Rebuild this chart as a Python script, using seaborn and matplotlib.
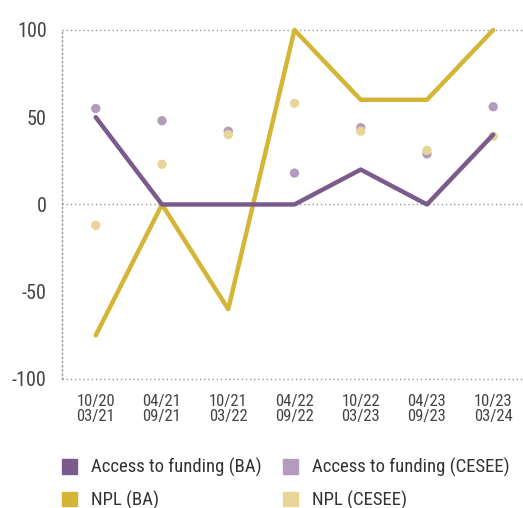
import numpy as np
import pandas as pd
import matplotlib
matplotlib.use("Agg")
import matplotlib.pyplot as plt
import seaborn as sns
from matplotlib.patches import Patch
from matplotlib import font_manager as fm

periods = ["10/20\n03/21", "04/21\n09/21", "10/21\n03/22", "04/22\n09/22",
           "10/22\n03/23", "04/23\n09/23", "10/23\n03/24"]
access_ba = [50, 0, 0, 0, 20, 0, 40]
npl_ba = [-75, 0, -60, 100, 60, 60, 100]
access_cesee = [55, 48, 42, 18, 44, 29, 56]
npl_cesee = [-12, 23, 40, 58, 42, 31, 39]

c_access_ba = "#7b5a8c"
c_access_cesee = "#b39bbb"
c_npl_ba = "#d4b536"
c_npl_cesee = "#e8d597"


def pick_narrow_font():
    # look for a condensed regular face among the installed fonts
    cands = []
    for f in fm.fontManager.ttflist:
        narrow = ("Narrow" in f.name or "Condensed" in f.name
                  or "ondensed" in str(f.stretch) or "Narrow" in f.fname
                  or "Condensed" in f.fname)
        if narrow and f.style == "normal" and f.weight in (400, "normal", "regular"):
            cands.append(f)
    order = ["Liberation Sans Narrow", "Roboto Condensed", "Open Sans Condensed",
             "DejaVu Sans Condensed", "Noto Sans Condensed"]
    for key in order:
        for f in cands:
            if key.replace(" ", "") in f.fname.replace("-", "").replace("_", "") or key == f.name:
                return f.fname
    for f in cands:
        if "Bold" not in f.fname and "Italic" not in f.fname and "Oblique" not in f.fname:
            return f.fname
    return None


sns.set_style("white")
plt.rcParams["font.family"] = ["DejaVu Sans"]
narrow = pick_narrow_font()


def fp(size):
    if narrow:
        return fm.FontProperties(fname=narrow, size=size)
    return fm.FontProperties(family="DejaVu Sans", size=size * 0.85)


x = np.arange(len(periods))
df = pd.DataFrame({"x": x, "access_ba": access_ba, "npl_ba": npl_ba,
                   "access_cesee": access_cesee, "npl_cesee": npl_cesee})

fig = plt.figure(figsize=(5.23, 5.08), dpi=100)
ax = fig.add_axes([0.1185, 0.254, 0.8815, 0.687])

for y in [100, 0, -100]:
    ax.axhline(y, color="#999999", lw=1, ls=(0, (1, 2)), zorder=1, clip_on=False)

sns.scatterplot(data=df, x="x", y="access_cesee", color=c_access_cesee, s=45,
                edgecolor="none", ax=ax, zorder=3, clip_on=False)
sns.scatterplot(data=df, x="x", y="npl_cesee", color=c_npl_cesee, s=45,
                edgecolor="none", ax=ax, zorder=3, clip_on=False)
sns.lineplot(data=df, x="x", y="npl_ba", color=c_npl_ba, lw=3.2, ax=ax,
             zorder=4, clip_on=False)
sns.lineplot(data=df, x="x", y="access_ba", color=c_access_ba, lw=3.2, ax=ax,
             zorder=5, clip_on=False)

ax.set_xlim(-0.51, 6.45)
ax.set_ylim(-100, 100)
ax.set_yticks([100, 50, 0, -50, -100])
ax.set_yticklabels(["100", "50", "0", "-50", "-100"], fontproperties=fp(14.5))
ax.set_xticks(x)
ax.set_xticklabels(periods, linespacing=1.0, fontproperties=fp(12))
ax.set_xlabel("")
ax.set_ylabel("")
ax.tick_params(axis="y", colors="#444444", length=0, pad=11)
ax.tick_params(axis="x", colors="#444444", length=0, pad=11)

for s in ["top", "right", "bottom"]:
    ax.spines[s].set_visible(False)
ax.spines["left"].set_color("#999999")
ax.spines["left"].set_linestyle((0, (1, 2)))
ax.spines["left"].set_linewidth(1)

legend_kw = dict(loc="upper left", frameon=False, prop=fp(13.5), handlelength=0.8,
                 handleheight=0.8, handletextpad=0.75, labelspacing=0.7,
                 borderpad=0, borderaxespad=0, labelcolor="#333333")
leg1 = fig.legend(handles=[Patch(color=c_access_ba, label="Access to funding (BA)"),
                           Patch(color=c_npl_ba, label="NPL (BA)")],
                  bbox_to_anchor=(62 / 523, 1 - 458 / 508), **legend_kw)
leg2 = fig.legend(handles=[Patch(color=c_access_cesee, label="Access to funding (CESEE)"),
                           Patch(color=c_npl_cesee, label="NPL (CESEE)")],
                  bbox_to_anchor=(283 / 523, 1 - 458 / 508), **legend_kw)

fig.savefig("out.png", dpi=100)
